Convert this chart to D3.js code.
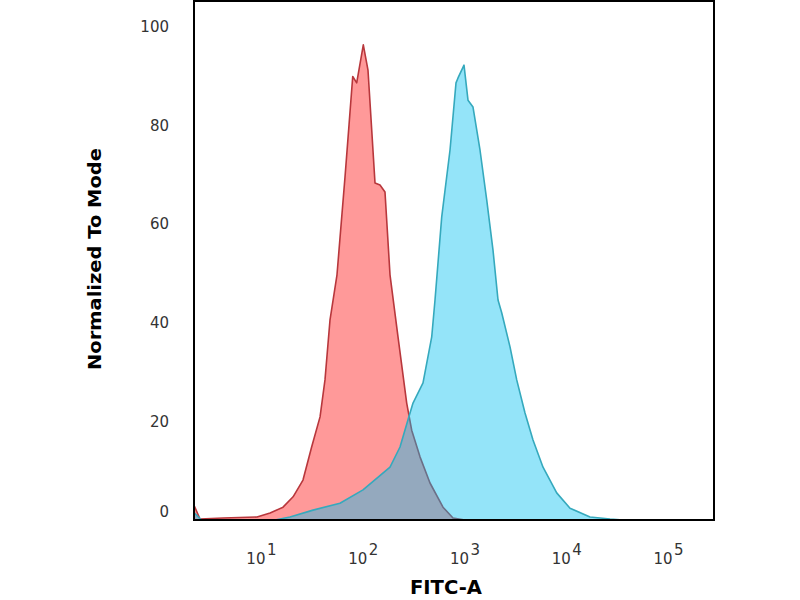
<!DOCTYPE html>
<html>
<head>
<meta charset="utf-8">
<script src="https://cdn.jsdelivr.net/npm/d3@7"></script>
<style>
    body { margin: 0; background: #fff; }
    .tick text { font-family: "DejaVu Sans", Verdana, sans-serif; font-size: 15px; fill: #333; }
    .title { font-family: "DejaVu Sans", Arial, sans-serif; font-weight: bold; fill: #000; }
</style>
</head>
<body>
<div id="histo"></div>
<script>
// plot box in page pixels
let margin = {top: 1, right: 86, bottom: 80, left: 194},
    width = 800 - margin.left - margin.right,
    height = 600 - margin.top - margin.bottom;

// isotype control (red) : FITC-A bin value / % of mode
let redFitc = [2.2, 2.52, 4.24, 9.15, 12.3, 16.5, 20.7, 25.9, 31.5, 38.1, 42.6, 47.7, 55.9, 67.0, 73.4,
    79.8, 87.3, 101.4, 112.7, 122.6, 132.1, 147.9, 165.6, 185.5, 222.3, 270.6, 303, 365.7, 458.5, 615.2, 771.5, 1012];
let redCount = [3.0, 0.2, 0.4, 0.6, 1.4, 2.6, 4.7, 8.1, 14.8, 20.9, 28.4, 40.5, 49.7, 69.5, 80.1,
    89.9, 88.6, 96.3, 91.2, 79.1, 68.3, 67.9, 66.5, 49.7, 37.1, 23.7, 18.2, 12.8, 7.5, 2.6, 0.4, 0];

// stained sample (blue)
let blueFitc = [2.2, 2.6, 13.75, 19.3, 32.5, 59.8, 100.7, 185.5, 232.6, 278.7, 312.1, 391.4, 476.6, 513.4, 597.4,
    721.1, 825.6, 864.0, 989.5, 1083, 1213, 1421, 1654, 1907, 2136, 2322, 2802, 3261, 3934, 4714, 5911,
    8058, 10890, 17120, 26920, 36130];
let blueCount = [1.5, 0, 0, 0.6, 2.0, 3.4, 6.1, 10.7, 14.8, 20.3, 23.7, 27.8, 37.1, 44.6, 61.4,
    75.0, 88.6, 89.6, 92.2, 85.1, 83.7, 75.0, 64.9, 54.7, 44.6, 42.0, 35.1, 28.4, 21.7, 16.2, 10.7,
    5.5, 2.4, 0.6, 0.2, 0];

let xTicks = [10, 100, 1000, 10000, 100000];
let yTicks = [0, 20, 40, 60, 80, 100];

let x = d3.scaleLog().domain([2.2, 283000]).range([0, width]);
let y = d3.scaleLinear().domain([0, 105.2]).range([height, 0]);

let svg = d3.select("#histo").append("svg")
    .attr("width", 800)
    .attr("height", 600)
    .append("g")
    .attr("transform", "translate(" + margin.left + "," + margin.top + ")");

svg.append("clipPath").attr("id", "plotClip")
    .append("rect").attr("width", width).attr("height", height);

let area = d3.area()
    .x( (d) => x(d[0]) )
    .y0(y(0))
    .y1( (d) => y(d[1]) );
let line = d3.line()
    .x( (d) => x(d[0]) )
    .y( (d) => y(d[1]) );

let series = [
    {pts: d3.zip(redFitc, redCount), fill: "rgba(255,0,0,0.4)", stroke: "#b8373c"},
    {pts: d3.zip(blueFitc, blueCount), fill: "rgba(0,190,240,0.42)", stroke: "#35a9bd"}
];

let plot = svg.append("g").attr("clip-path", "url(#plotClip)");
series.forEach(function (s) {
    plot.append("path").datum(s.pts)
        .attr("d", area)
        .attr("fill", s.fill);
    plot.append("path").datum(s.pts)
        .attr("d", line)
        .attr("fill", "none")
        .attr("stroke", s.stroke)
        .attr("stroke-width", 1.6)
        .attr("stroke-linejoin", "round");
});

// frame
svg.append("rect")
    .attr("width", width)
    .attr("height", height)
    .attr("fill", "none")
    .attr("stroke", "#000")
    .attr("stroke-width", 2);

// y axis
let yAxis = svg.append("g")
    .call(d3.axisLeft(y).tickValues(yTicks).tickSize(0).tickPadding(25));
yAxis.select(".domain").remove();
yAxis.selectAll(".tick").filter( (d) => d === 0 ).select("text").attr("dy", "-0.25em");

// x axis, 10^n labels
let xAxis = svg.append("g")
    .attr("transform", "translate(0," + height + ")")
    .call(d3.axisBottom(x).tickValues(xTicks).tickSize(0).tickPadding(33).tickFormat(() => "10"));
xAxis.select(".domain").remove();
xAxis.selectAll(".tick text").each(function (d) {
    d3.select(this).append("tspan")
        .attr("dy", "-0.6em")
        .attr("dx", "0.1em")
        .text(Math.round(Math.log10(d)));
});

// axis titles
svg.append("text")
    .attr("class", "title")
    .attr("transform", "rotate(-90)")
    .attr("x", -258)
    .attr("y", 101 - margin.left)
    .attr("text-anchor", "middle")
    .attr("font-size", 18)
    .attr("textLength", 222)
    .attr("lengthAdjust", "spacingAndGlyphs")
    .text("Normalized To Mode");

svg.append("text")
    .attr("class", "title")
    .attr("x", 446 - margin.left)
    .attr("y", 594 - margin.top)
    .attr("text-anchor", "middle")
    .attr("font-size", 20)
    .attr("textLength", 72)
    .attr("lengthAdjust", "spacingAndGlyphs")
    .text("FITC-A");
</script>
</body>
</html>
